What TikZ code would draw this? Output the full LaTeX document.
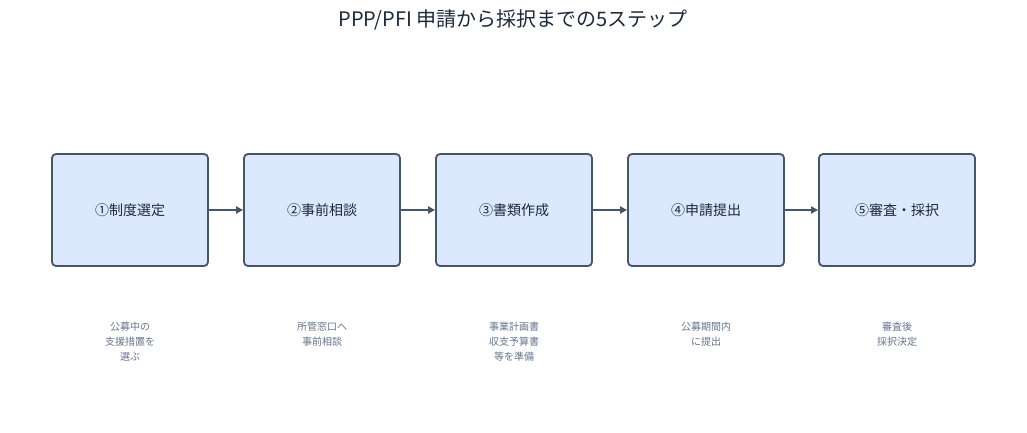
\documentclass[tikz,border=0pt]{standalone}
\usepackage{fontspec}
\setmainfont{Noto Sans CJK JP}
\usetikzlibrary{arrows.meta}
\definecolor{bfill}{HTML}{DBE8FD}
\definecolor{bdraw}{HTML}{475569}
\definecolor{tdark}{HTML}{1E293B}
\definecolor{tgray}{HTML}{64748B}
\begin{document}
\begin{tikzpicture}[x=1pt,y=-1pt,
  box/.style={draw=bdraw,fill=bfill,line width=1.8pt,rounded corners=4pt,minimum width=156pt,minimum height=112pt,font=\fontsize{14}{16}\selectfont,text=tdark},
  capt/.style={font=\fontsize{10}{15}\selectfont,text=tgray,align=center,anchor=north},
  arr/.style={draw=bdraw,line width=2pt,-{Triangle[length=7pt,width=7pt]}}]
\useasboundingbox (0,0) rectangle (1027,432);
\node[font=\fontsize{20}{24}\selectfont,text=tdark] (title) at (513,20) {PPP/PFI 申請から採択までの5ステップ};
\node[box] (b1) at (130,210) {①制度選定};
\node[box] (b2) at (322,210) {②事前相談};
\node[box] (b3) at (514,210) {③書類作成};
\node[box] (b4) at (706,210) {④申請提出};
\node[box] (b5) at (897,210) {⑤審査・採択};
\draw[arr] (b1) -- (b2);
\draw[arr] (b2) -- (b3);
\draw[arr] (b3) -- (b4);
\draw[arr] (b4) -- (b5);
\node[capt] (c1) at (130,319) {公募中の\\支援措置を\\選ぶ};
\node[capt] (c2) at (322,319) {所管窓口へ\\事前相談};
\node[capt] (c3) at (514,319) {事業計画書\\収支予算書\\等を準備};
\node[capt] (c4) at (706,319) {公募期間内\\に提出};
\node[capt] (c5) at (897,319) {審査後\\採択決定};
\end{tikzpicture}
\end{document}
